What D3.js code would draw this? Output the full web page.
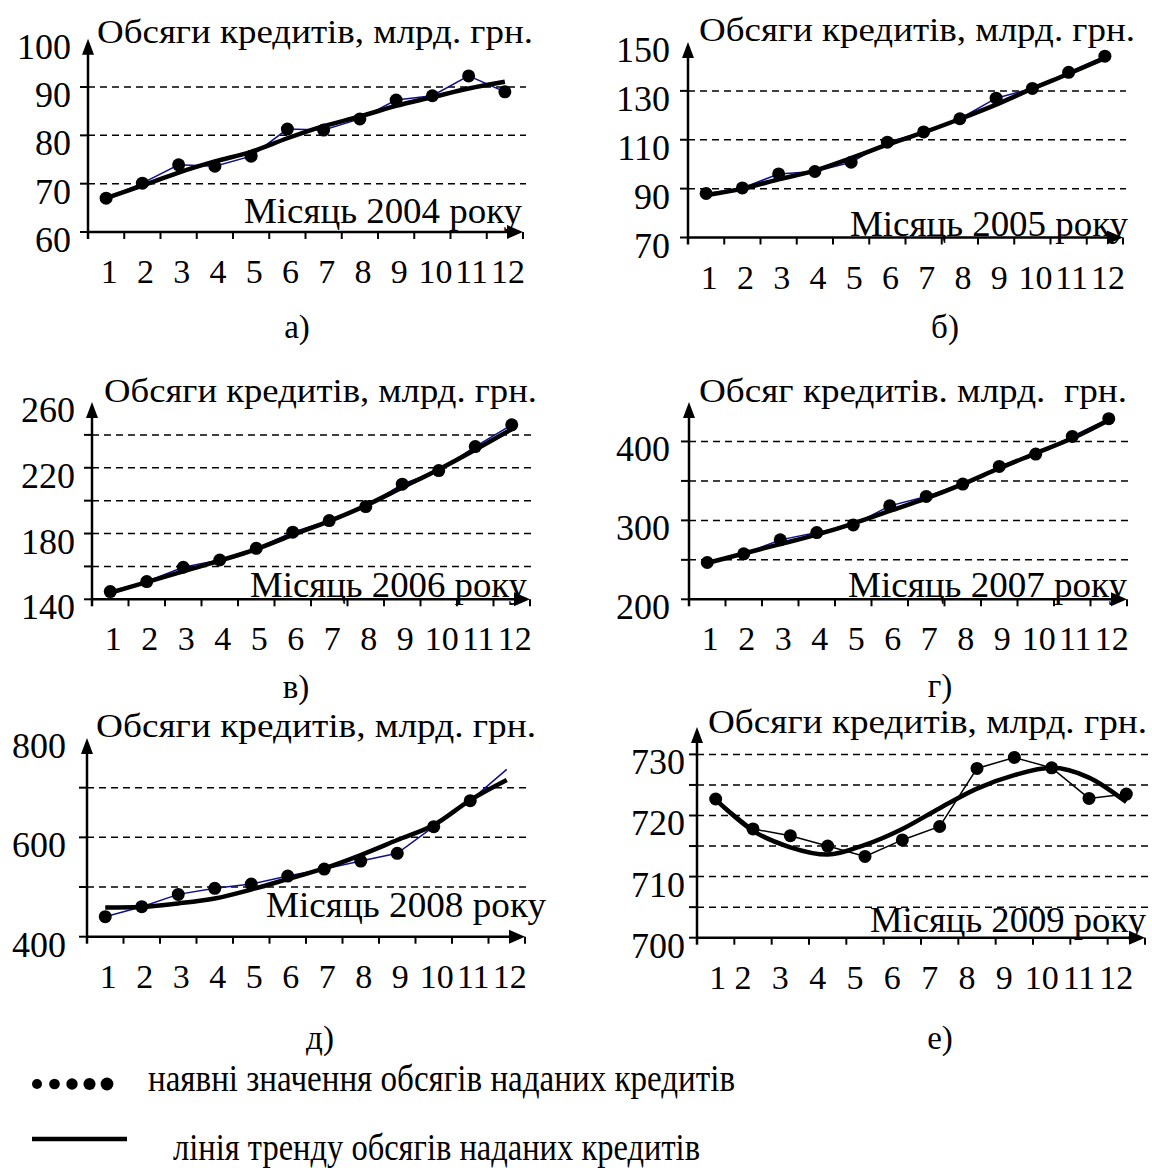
<!DOCTYPE html>
<html><head><meta charset="utf-8">
<script src="https://cdn.jsdelivr.net/npm/d3@7"></script>
<style>
body{margin:0;background:#fff}
svg{display:block}
text{font-family:"Liberation Serif","Times New Roman",serif;fill:#000;white-space:pre}
</style>
</head><body>
<svg id="c" width="1152" height="1168"></svg>
<script>
// ---------------- DATA ----------------
const months = [1,2,3,4,5,6,7,8,9,10,11,12];
const monthLabels = ["1","2","3","4","5","6","7","8","9","10","11","12"];

const actual2004 = [67.0,70.1,73.9,73.6,75.7,81.3,81.1,83.4,87.3,88.2,92.3,89.0];
const trend2004  = [67.0,69.6,72.3,74.6,76.6,79.4,81.9,83.9,86.1,87.9,89.7,91.1];
const actual2005 = [88.0,90.3,96.0,97.0,100.8,109.0,113.2,118.6,127.0,131.0,137.6,144.2];
const trend2005  = [87.3,90.0,93.8,97.4,102.5,108.0,113.0,118.5,124.4,130.9,137.0,143.4];
const actual2006 = [144.7,150.8,159.5,163.9,171.0,180.8,187.9,196.4,210.0,218.3,232.9,246.1];
const trend2006  = [144.0,150.5,157.0,163.5,170.5,179.2,187.5,197.0,208.0,219.0,231.0,243.5];
const actual2007 = [246.6,257.6,275.3,284.6,294.3,318.4,330.3,346.0,368.4,384.0,406.4,428.9];
const trend2007  = [246,258,270,282,296,312,328,346,366,385,404,427];
const actual2008 = [440.3,460.4,485.2,497.3,506.0,522.1,536.2,552.3,567.8,621.5,673.8,736.9];
const trend2008  = [459,460,467,477,495,516,537.6,564.4,594.6,624.8,675,715.4];
const actual2009 = [722.7,717.8,716.7,715.0,713.3,716.0,718.2,727.7,729.5,727.8,722.8,723.5];
const trend2009  = [722.6,717.5,714.8,713.6,715.2,717.8,721.2,724.4,726.6,727.8,726.2,722.2];

const markedMonths = [12,12,12,12,11,12]; // months with a dot marker per panel

const titles = ["Обсяги кредитів, млрд. грн.","Обсяги кредитів, млрд. грн.","Обсяги кредитів, млрд. грн.",
                "Обсяг кредитів. млрд.  грн.","Обсяги кредитів, млрд. грн.","Обсяги кредитів, млрд. грн."];
const xTitles = ["Місяць 2004 року","Місяць 2005 року","Місяць 2006 року","Місяць 2007 року","Місяць 2008 року","Місяць 2009 року"];
const captions = ["а)","б)","в)","г)","д)","е)"];

const yDomains = [[60,100],[70,150],[140,260],[200,450],[400,800],[700,734.5]];
const yLabels  = [[60,70,80,90,100],[70,90,110,130,150],[140,180,220,260],[200,300,400],[400,600,800],[700,710,720,730]];
const gridVals = [[70,80,90],[90,110,130],[160,180,200,220,240],[250,300,350,400],[500,600,700],[705,710,715,720,725,730]];

const legendTexts = ["наявні значення обсягів наданих кредитів","лінія тренду обсягів наданих кредитів"];

// ---------------- LAYOUT ----------------
const geom = [
 {x0:88, x1:523, yb:232,   yt:38.7, tx:97,  tw:436, ty:43,  lx:244, lw:278, ly:223, cx:297, cy:338,  yl:17, col:"#10108a"},
 {x0:688,x1:1123,yb:237.5, yt:42,   tx:699, tw:436, ty:41,  lx:850, lw:278, ly:236, cx:945, cy:338,  yl:18, col:"#10108a"},
 {x0:92, x1:530, yb:599.3, yt:402,  tx:104, tw:433, ty:402, lx:250, lw:277, ly:597, cx:296, cy:698,  yl:17, col:"#10108a"},
 {x0:689,x1:1127,yb:599.3, yt:402,  tx:699, tw:428, ty:402, lx:848, lw:279, ly:597, cx:940, cy:697,  yl:19, col:"#10108a"},
 {x0:87, x1:525, yb:936.7, yt:738,  tx:96,  tw:440, ty:737, lx:266, lw:280, ly:917, cx:320, cy:1049, yl:21, col:"#10108a"},
 {x0:697,x1:1145,yb:937.7, yt:726.9,tx:708, tw:439, ty:733, lx:870, lw:276, ly:932, cx:940, cy:1049, yl:12, col:"#000"}
];
const actuals = [actual2004,actual2005,actual2006,actual2007,actual2008,actual2009];
const trends  = [trend2004,trend2005,trend2006,trend2007,trend2008,trend2009];

const svg = d3.select("#c");
svg.append("rect").attr("width",1152).attr("height",1168).attr("fill","#fff");

geom.forEach((g,pi)=>{
  const gr = svg.append("g");
  const xs = d3.scaleLinear().domain([0,12]).range([g.x0,g.x1]);
  const ys = d3.scaleLinear().domain(yDomains[pi]).range([g.yb,g.yt]);
  const px = m => xs(m-0.5);

  // gridlines
  gr.selectAll(".grid").data(gridVals[pi]).join("line")
    .attr("x1",g.x0).attr("x2",g.x1+3)
    .attr("y1",d=>ys(d)).attr("y2",d=>ys(d))
    .attr("stroke","#000").attr("stroke-width",1.5).attr("stroke-dasharray","7,5");
  // left ticks
  gr.selectAll(".lt").data([yDomains[pi][0]].concat(gridVals[pi])).join("line")
    .attr("x1",g.x0-8).attr("x2",g.x0)
    .attr("y1",d=>ys(d)).attr("y2",d=>ys(d))
    .attr("stroke","#000").attr("stroke-width",2);
  // axes
  gr.append("line").attr("x1",g.x0).attr("x2",g.x0).attr("y1",g.yb+7).attr("y2",g.yt+6)
    .attr("stroke","#000").attr("stroke-width",2.5);
  gr.append("path").attr("d",`M${g.x0},${g.yt}L${g.x0-6},${g.yt+16}L${g.x0+6},${g.yt+16}Z`).attr("fill","#000");
  gr.append("line").attr("x1",g.x0).attr("x2",g.x1-6).attr("y1",g.yb).attr("y2",g.yb)
    .attr("stroke","#000").attr("stroke-width",2.5);
  gr.append("path").attr("d",`M${g.x1},${g.yb}L${g.x1-16},${g.yb-7}L${g.x1-16},${g.yb+7}Z`).attr("fill","#000");
  // bottom ticks
  gr.selectAll(".bt").data(months).join("line")
    .attr("x1",d=>xs(d)).attr("x2",d=>xs(d)).attr("y1",g.yb).attr("y2",g.yb+7)
    .attr("stroke","#000").attr("stroke-width",2);

  // y labels
  gr.selectAll(".yl").data(yLabels[pi]).join("text")
    .attr("x",g.x0-g.yl).attr("y",d=>ys(d)+20).attr("text-anchor","end")
    .attr("font-size",36).text(d=>d);
  // x labels
  gr.selectAll(".xl").data(months).join("text")
    .attr("x",d=>px(d)+(pi===5 ? (d===1?2:-10) : 3)).attr("y",g.yb+51)
    .attr("text-anchor","middle").attr("font-size",34).text((d,i)=>monthLabels[i]);

  // titles
  gr.append("text").attr("x",g.tx).attr("y",g.ty).attr("font-size",34)
    .attr("textLength",g.tw).attr("lengthAdjust","spacingAndGlyphs").text(titles[pi]);
  gr.append("text").attr("x",g.lx).attr("y",g.ly).attr("font-size",35)
    .attr("textLength",g.lw).attr("lengthAdjust","spacingAndGlyphs").text(xTitles[pi]);
  gr.append("text").attr("x",g.cx).attr("y",g.cy).attr("font-size",33)
    .attr("text-anchor","middle").text(captions[pi]);

  // data line
  const pts = months.map((m,i)=>[px(m), ys(actuals[pi][i])]);
  gr.append("path").attr("d",d3.line()(pts)).attr("fill","none")
    .attr("stroke",g.col).attr("stroke-width",1.5);
  // trend
  const tp = months.map((m,i)=>[px(m), ys(trends[pi][i])]);
  gr.append("path").attr("d",d3.line().curve(d3.curveMonotoneX)(tp)).attr("fill","none")
    .attr("stroke","#000").attr("stroke-width",4.5).attr("stroke-linejoin","round");
  // dots
  gr.selectAll(".dot").data(pts.slice(0,markedMonths[pi])).join("circle")
    .attr("cx",d=>d[0]).attr("cy",d=>d[1]).attr("r",6.5).attr("fill","#000");
});

// legend
const lg = svg.append("g");
lg.selectAll("circle").data(d3.range(5)).join("circle")
  .attr("cx",i=>37+i*17.5).attr("cy",1084).attr("r",i=>5+i*0.35).attr("fill","#000");
lg.append("text").attr("x",148).attr("y",1091).attr("font-size",38)
  .attr("textLength",587).attr("lengthAdjust","spacingAndGlyphs").text(legendTexts[0]);
lg.append("line").attr("x1",32).attr("x2",127).attr("y1",1139).attr("y2",1139)
  .attr("stroke","#000").attr("stroke-width",4.5);
lg.append("text").attr("x",173).attr("y",1160).attr("font-size",38)
  .attr("textLength",527).attr("lengthAdjust","spacingAndGlyphs").text(legendTexts[1]);
</script>
</body></html>
